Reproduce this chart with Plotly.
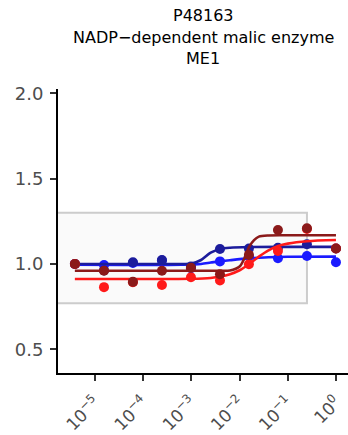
import plotly.graph_objects as go

# концентрации (шаг 1/4)
conc = [3.81e-6, 1.53e-5, 6.10e-5, 2.44e-4, 9.77e-4, 3.91e-3, 1.56e-2, 6.25e-2, 0.25, 1.0]

# нормированные значения по сериям
navy_vals = [1.0, 0.962, 1.010, 1.023, 0.985, 1.088, 1.090, 1.095, 1.115, 1.090]
blue_vals = [1.0, 0.994, 1.006, 1.020, 0.975, 1.015, 1.045, 1.033, 1.047, 1.010]
red_vals = [1.0, 0.864, 0.893, 0.877, 0.922, 0.903, 0.998, 1.076, 1.205, 1.090]
darkred_vals = [1.0, 0.960, 0.895, 0.960, 0.978, 0.940, 1.053, 1.199, 1.209, 1.090]

# аппроксимирующие кривые (log10 концентрации -> значение)
navy_fit_x = [-5.42, -3.4, -3.0, -2.8, -2.6, -2.4, -2.2, -1.8, -1.0, 0.0]
navy_fit_y = [1.0, 1.0, 1.002, 1.023, 1.066, 1.088, 1.095, 1.099, 1.10, 1.10]
blue_fit_x = [-5.42, -3.2, -2.8, -2.6, -2.4, -2.2, -2.0, -1.8, -1.6, -1.4, -1.0, 0.0]
blue_fit_y = [0.995, 0.996, 1.0, 1.008, 1.016, 1.022, 1.028, 1.032, 1.036, 1.039, 1.042, 1.043]
red_fit_x = [-5.42, -3.0, -2.6, -2.4, -2.2, -2.0, -1.8, -1.6, -1.4, -1.2, -1.0, -0.6, 0.0]
red_fit_y = [0.912, 0.913, 0.918, 0.926, 0.94, 0.963, 1.0, 1.043, 1.08, 1.105, 1.119, 1.133, 1.14]
darkred_fit_x = [-5.42, -2.4, -2.2, -2.0, -1.9, -1.8, -1.7, -1.6, -1.4, -1.0, 0.0]
darkred_fit_y = [0.96, 0.96, 0.962, 0.985, 1.033, 1.101, 1.14, 1.16, 1.167, 1.168, 1.168]

# зона "без изменений"
band_low = 1 / 1.3
band_high = 1.3
band_right = 0.25

tick_vals = [1e-5, 1e-4, 1e-3, 1e-2, 1e-1, 1]
tick_text = ['10<sup>−5</sup>', '10<sup>−4</sup>', '10<sup>−3</sup>',
             '10<sup>−2</sup>', '10<sup>−1</sup>', '10<sup>0</sup>']

title_lines = ['P48163', 'NADP−dependent malic enzyme', 'ME1']

# порядок отрисовки: снизу вверх
series = [
    ('blue', '#1A1AFF', blue_vals, blue_fit_x, blue_fit_y),
    ('navy', '#1C1C9C', navy_vals, navy_fit_x, navy_fit_y),
    ('red', '#FF1A1A', red_vals, red_fit_x, red_fit_y),
    ('darkred', '#8B1A1A', darkred_vals, darkred_fit_x, darkred_fit_y),
]

FONT = 'DejaVu Sans, Liberation Sans, sans-serif'

fig = go.Figure()

fig.add_shape(
    type='rect', xref='x', yref='y',
    x0=1e-7, x1=band_right, y0=band_low, y1=band_high,
    fillcolor='#FAFAFA', line=dict(color='#CCCCCC', width=2),
    layer='below'
)

for name, color, vals, fx, fy in series:
    fig.add_trace(go.Scatter(
        x=[10 ** v for v in fx], y=fy, mode='lines',
        line=dict(color=color, width=2.6, shape='spline', smoothing=0.8),
        showlegend=False, hoverinfo='skip'
    ))
    fig.add_trace(go.Scatter(
        x=conc, y=vals, mode='markers', name=name,
        marker=dict(color=color, size=10),
        showlegend=False
    ))

# заголовок в три строки (центры строк в пикселях сверху)
plot_top, plot_h = 89, 284
for line, y_px in zip(title_lines, [15.5, 37, 58.5]):
    fig.add_annotation(
        text=line, xref='paper', yref='paper',
        x=0.5, y=(plot_top + plot_h - y_px) / plot_h,
        xanchor='center', yanchor='middle', showarrow=False,
        font=dict(family=FONT, size=16, color='black')
    )

fig.update_layout(
    width=348, height=435,
    margin=dict(l=58, r=0, t=89, b=62, autoexpand=False),
    paper_bgcolor='white', plot_bgcolor='white',
    font=dict(family=FONT, color='#4D4D4D'),
)

fig.update_xaxes(
    type='log', range=[-5.77, 0.25], automargin=False,
    tickvals=tick_vals, ticktext=tick_text, tickangle=-45,
    ticklabelstandoff=5,
    showgrid=False, zeroline=False,
    showline=True, linecolor='black', linewidth=2,
    ticks='outside', ticklen=6, tickwidth=1.5, tickcolor='#333333',
    tickfont=dict(family=FONT, size=17, color='#4D4D4D')
)
fig.update_yaxes(
    range=[0.361, 2.025], automargin=False,
    tickvals=[0.5, 1.0, 1.5, 2.0], ticktext=['0.5', '1.0', '1.5', '2.0'],
    showgrid=False, zeroline=False,
    showline=True, linecolor='black', linewidth=2,
    ticks='outside', ticklen=6, tickwidth=1.5, tickcolor='#333333',
    tickfont=dict(family=FONT, size=18, color='#4D4D4D'), ticklabelstandoff=3
)

# убираем отступ body, чтобы график стоял в (0, 0)
fig.write_html('out.html', config={'displayModeBar': False},
               post_script="document.body.style.margin='0';")
